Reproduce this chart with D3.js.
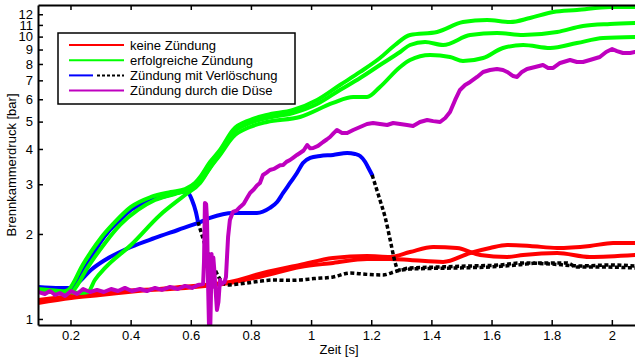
<!DOCTYPE html>
<html>
<head>
<meta charset="utf-8">
<script src="https://cdn.jsdelivr.net/npm/d3@7"></script>
<style>
  html, body { margin: 0; padding: 0; background: #fff; }
  svg { display: block; font-family: "Liberation Sans", Arial, sans-serif; }
</style>
</head>
<body>
<svg id="chart" width="635" height="357"></svg>
<script>
// Combustion chamber pressure over time, [t in s, p in bar]

// keine Zündung (two runs)
const noIgnitionA = [[0.092,1.139],[0.202,1.187],[0.298,1.216],[0.424,1.256],[0.531,1.288],[0.647,1.319],[0.730,1.352],[0.840,1.455],[0.963,1.553],[1.073,1.644],[1.186,1.671],[1.263,1.658],[1.329,1.727],[1.406,1.799],[1.485,1.784],[1.562,1.685],[1.652,1.658],[1.705,1.685],[1.818,1.713],[1.927,1.658],[2.077,1.685]];
const noIgnitionB = [[0.092,1.168],[0.202,1.206],[0.298,1.236],[0.424,1.267],[0.531,1.277],[0.647,1.309],[0.730,1.341],[0.840,1.420],[0.963,1.528],[1.073,1.579],[1.186,1.632],[1.263,1.632],[1.329,1.618],[1.439,1.592],[1.529,1.713],[1.595,1.784],[1.652,1.828],[1.728,1.814],[1.818,1.784],[1.927,1.814],[2.004,1.858],[2.077,1.858]];

// erfolgreiche Zündung (three runs)
const ignitionA = [[0.092,1.256],[0.165,1.246],[0.192,1.267],[0.215,1.374],[0.235,1.516],[0.268,1.727],[0.301,1.936],[0.348,2.206],[0.401,2.493],[0.468,2.704],[0.534,2.817],[0.581,2.886],[0.614,3.031],[0.631,3.183],[0.664,3.597],[0.697,3.967],[0.740,4.670],[0.797,5.066],[0.853,5.278],[0.940,5.497],[1.020,5.964],[1.096,6.740],[1.163,7.495],[1.229,8.398],[1.279,9.338],[1.329,10.13],[1.419,10.38],[1.505,11.26],[1.585,11.45],[1.662,11.26],[1.728,11.64],[1.805,12.22],[1.884,12.42],[1.994,12.73],[2.077,12.73]];
const ignitionB = [[0.092,1.246],[0.202,1.246],[0.225,1.330],[0.248,1.467],[0.281,1.658],[0.315,1.858],[0.365,2.153],[0.424,2.432],[0.481,2.638],[0.547,2.771],[0.591,2.863],[0.621,3.006],[0.647,3.235],[0.681,3.656],[0.714,4.099],[0.740,4.557],[0.797,4.943],[0.853,5.149],[0.940,5.363],[1.020,5.772],[1.096,6.471],[1.163,7.137],[1.229,7.935],[1.296,8.822],[1.329,9.338],[1.379,9.570],[1.439,9.338],[1.529,10.13],[1.618,10.30],[1.705,10.13],[1.818,10.38],[1.904,10.90],[1.994,11.08],[2.077,11.17]];
const ignitionC = [[0.092,1.277],[0.165,1.256],[0.232,1.236],[0.258,1.246],[0.281,1.374],[0.315,1.516],[0.401,1.828],[0.498,2.335],[0.581,2.749],[0.631,3.031],[0.664,3.424],[0.697,3.809],[0.740,4.410],[0.797,4.786],[0.853,4.984],[0.963,5.191],[1.073,5.820],[1.140,6.111],[1.186,6.111],[1.229,6.631],[1.296,7.806],[1.329,8.262],[1.396,8.607],[1.462,8.467],[1.505,8.195],[1.572,8.398],[1.638,9.112],[1.705,9.338],[1.795,9.112],[1.884,9.491],[1.971,9.886],[2.077,9.968]];

// Zündung mit Verlöschung: burning phase (solid) and after flame-out (dashed)
const flameOutABurning = [[0.092,1.288],[0.148,1.277],[0.192,1.277],[0.215,1.330],[0.248,1.516],[0.275,1.685],[0.298,1.858],[0.331,2.066],[0.365,2.242],[0.401,2.432],[0.464,2.620],[0.531,2.750],[0.578,2.830],[0.591,2.800],[0.604,2.638],[0.617,2.393],[0.624,2.206]];
const flameOutAExtinct = [[0.624,2.206],[0.637,1.984],[0.651,1.784],[0.664,1.644],[0.681,1.491],[0.704,1.352],[0.724,1.319],[0.760,1.330],[0.787,1.341],[0.830,1.360],[0.873,1.374],[0.920,1.370],[0.963,1.374],[1.010,1.390],[1.073,1.408],[1.130,1.455],[1.180,1.440],[1.239,1.432],[1.286,1.479],[1.329,1.503],[1.400,1.510],[1.485,1.516],[1.595,1.528],[1.685,1.553],[1.761,1.579],[1.851,1.579],[1.884,1.528],[1.960,1.528],[2.077,1.516]];
const flameOutBBurning = [[0.092,1.298],[0.165,1.288],[0.198,1.288],[0.225,1.341],[0.268,1.491],[0.315,1.618],[0.401,1.799],[0.481,1.936],[0.557,2.066],[0.624,2.188],[0.664,2.279],[0.740,2.373],[0.820,2.373],[0.863,2.473],[0.887,2.596],[0.907,2.794],[0.930,3.031],[0.953,3.289],[0.973,3.568],[0.997,3.717],[1.030,3.778],[1.073,3.809],[1.120,3.871],[1.146,3.840],[1.163,3.778],[1.180,3.597],[1.189,3.453],[1.203,3.235]];
const flameOutBExtinct = [[1.203,3.235],[1.229,2.638],[1.246,2.297],[1.263,1.905],[1.279,1.592],[1.289,1.491],[1.329,1.516],[1.429,1.528],[1.529,1.541],[1.628,1.553],[1.695,1.579],[1.795,1.566],[1.894,1.541],[1.994,1.553],[2.077,1.541]];

// Zündung durch die Düse
const nozzleIgnition = [[0.092,1.246],[0.115,1.226],[0.132,1.256],[0.149,1.216],[0.165,1.236],[0.182,1.206],[0.202,1.256],[0.222,1.226],[0.242,1.277],[0.265,1.246],[0.288,1.267],[0.311,1.246],[0.335,1.277],[0.358,1.256],[0.381,1.288],[0.404,1.256],[0.431,1.277],[0.454,1.256],[0.481,1.288],[0.504,1.267],[0.531,1.298],[0.557,1.277],[0.581,1.309],[0.604,1.288],[0.624,1.319],[0.641,1.330],
  [0.644,1.600],[0.647,2.575],[0.651,2.550],[0.654,2.242],[0.657,1.400],[0.661,0.900],[0.664,0.850],[0.667,1.200],[0.669,1.700],[0.671,1.450],[0.673,1.300],[0.675,1.650],[0.678,1.500],[0.681,1.330],[0.687,1.076],[0.692,1.150],[0.697,1.374],[0.702,1.330],[0.707,1.341],[0.712,1.350],[0.717,1.408],[0.721,1.700],[0.724,1.951],[0.730,2.242],
  [0.740,2.393],[0.752,2.420],[0.764,2.493],[0.776,2.560],[0.787,2.682],[0.797,2.794],[0.810,2.880],[0.820,2.970],[0.830,3.031],[0.840,3.235],[0.852,3.300],[0.863,3.370],[0.876,3.400],[0.887,3.453],[0.897,3.500],[0.907,3.510],[0.918,3.600],[0.930,3.656],[0.941,3.730],[0.953,3.809],[0.963,3.871],[0.975,3.950],[0.987,4.132],[0.997,4.020],[1.007,4.032],[1.023,4.100],[1.040,4.235],[1.052,4.320],[1.063,4.410],[1.075,4.550],[1.086,4.670],[1.103,4.557],[1.120,4.557],[1.140,4.670],[1.163,4.786],[1.186,4.904],[1.206,4.943],[1.229,4.904],[1.253,4.864],[1.273,4.943],[1.296,4.904],[1.319,4.864],[1.339,4.825],[1.362,4.984],[1.386,5.066],[1.406,5.020],[1.429,4.984],[1.446,5.149],[1.462,5.408],[1.479,5.964],[1.495,6.471],[1.512,6.740],[1.529,6.907],[1.552,7.195],[1.572,7.495],[1.595,7.618],[1.618,7.680],[1.638,7.618],[1.652,7.495],[1.672,7.250],[1.685,7.195],[1.701,7.495],[1.718,7.680],[1.745,7.806],[1.771,7.935],[1.788,7.743],[1.805,7.743],[1.828,8.065],[1.861,8.262],[1.884,8.128],[1.904,8.128],[1.927,8.262],[1.960,8.467],[1.981,8.822],[2.001,9.038],[2.017,8.890],[2.037,8.749],[2.061,8.749],[2.077,8.822]];

// Axis limits and ticks
const xDomain = [0.092, 2.077];
const yDomain = [0.952, 12.94];
const xTickValues = [0.2, 0.4, 0.6, 0.8, 1, 1.2, 1.4, 1.6, 1.8, 2];
const yTickValues = [1, 2, 3, 4, 5, 6, 7, 8, 9, 10, 11, 12];
const xLabel = "Zeit [s]";
const yLabel = "Brennkammerdruck [bar]";
const legendLabels = ["keine Zündung", "erfolgreiche Zündung", "Zündung mit Verlöschung", "Zündung durch die Düse"];

const COLORS = { red: "#ff0000", green: "#00ff00", blue: "#0000ff", magenta: "#bf00bf", black: "#000000" };

const svg = d3.select("#chart");
const plot = { left: 38, right: 635, top: 5, bottom: 325 };

const x = d3.scaleLinear().domain(xDomain).range([plot.left, plot.right]);
const y = d3.scaleLog().domain(yDomain).range([plot.bottom, plot.top]);

svg.append("defs").append("clipPath").attr("id", "plot-clip")
  .append("rect")
  .attr("x", plot.left).attr("y", plot.top)
  .attr("width", plot.right - plot.left).attr("height", plot.bottom - plot.top);

const smooth = d3.line().x(d => x(d[0])).y(d => y(d[1])).curve(d3.curveMonotoneX);
const raw = d3.line().x(d => x(d[0])).y(d => y(d[1]));

const lines = svg.append("g").attr("clip-path", "url(#plot-clip)");

function draw(data, color, gen, dashed) {
  const p = lines.append("path")
    .attr("d", gen(data))
    .attr("fill", "none")
    .attr("stroke", color)
    .attr("stroke-width", dashed ? 3.5 : 4)
    .attr("stroke-linejoin", "round")
    .attr("stroke-linecap", dashed ? "butt" : "round");
  if (dashed) p.attr("stroke-dasharray", "4,2.5");
}

draw(noIgnitionA, COLORS.red, smooth);
draw(noIgnitionB, COLORS.red, smooth);
draw(flameOutABurning, COLORS.blue, smooth);
draw(flameOutBBurning, COLORS.blue, smooth);
draw(flameOutAExtinct, COLORS.black, smooth, true);
draw(flameOutBExtinct, COLORS.black, smooth, true);
draw(ignitionC, COLORS.green, smooth);
draw(ignitionB, COLORS.green, smooth);
draw(ignitionA, COLORS.green, smooth);
draw(nozzleIgnition, COLORS.magenta, raw);

// Axes: ticks point inward
const fontSize = 13;
const axisLeft = d3.axisLeft(y).tickValues(yTickValues).tickFormat(d => String(d))
  .tickSizeInner(-5).tickSizeOuter(0).tickPadding(5);
const axisBottom = d3.axisBottom(x).tickValues(xTickValues).tickFormat(d => String(d))
  .tickSizeInner(-5).tickSizeOuter(0).tickPadding(6);
const axisTop = d3.axisTop(x).tickValues(xTickValues).tickFormat("")
  .tickSizeInner(-5).tickSizeOuter(0);

function styleAxis(g) {
  g.select(".domain").attr("stroke", "#000").attr("stroke-width", 2);
  g.selectAll(".tick line").attr("stroke", "#000").attr("stroke-width", 1.5);
  g.selectAll(".tick text").attr("fill", "#000")
    .style("font-size", fontSize + "px")
    .style("font-family", '"Liberation Sans", Arial, sans-serif');
}

svg.append("g").attr("transform", `translate(${plot.left},0)`).call(axisLeft).call(styleAxis);
svg.append("g").attr("transform", `translate(0,${plot.bottom})`).call(axisBottom).call(styleAxis);
svg.append("g").attr("transform", `translate(0,${plot.top})`).call(axisTop).call(styleAxis);

svg.append("text")
  .attr("x", 339).attr("y", 354)
  .attr("text-anchor", "middle")
  .style("font-size", fontSize + "px")
  .text(xLabel);

svg.append("text")
  .attr("transform", "translate(16,165) rotate(-90)")
  .attr("text-anchor", "middle")
  .style("font-size", fontSize + "px")
  .text(yLabel);

// Legend
const legend = svg.append("g");
legend.append("rect")
  .attr("x", 58).attr("y", 33).attr("width", 237).attr("height", 71)
  .attr("fill", "#fff").attr("stroke", "#000").attr("stroke-width", 1.5);

const legendRows = [
  { label: legendLabels[0], segs: [{ c: COLORS.red, x1: 69, x2: 124 }] },
  { label: legendLabels[1], segs: [{ c: COLORS.green, x1: 69, x2: 124 }] },
  { label: legendLabels[2], segs: [{ c: COLORS.blue, x1: 69, x2: 93 }, { c: COLORS.black, x1: 97, x2: 124, dash: true }] },
  { label: legendLabels[3], segs: [{ c: COLORS.magenta, x1: 69, x2: 124 }] }
];

legendRows.forEach((row, i) => {
  const cy = 45 + i * 15.2;
  row.segs.forEach(s => {
    const l = legend.append("line")
      .attr("x1", s.x1).attr("x2", s.x2).attr("y1", cy).attr("y2", cy)
      .attr("stroke", s.c).attr("stroke-width", 2);
    if (s.dash) l.attr("stroke-dasharray", "3,2");
  });
  legend.append("text")
    .attr("x", 130).attr("y", cy + 4.5)
    .style("font-size", fontSize + "px")
    .text(row.label);
});
</script>
</body>
</html>
